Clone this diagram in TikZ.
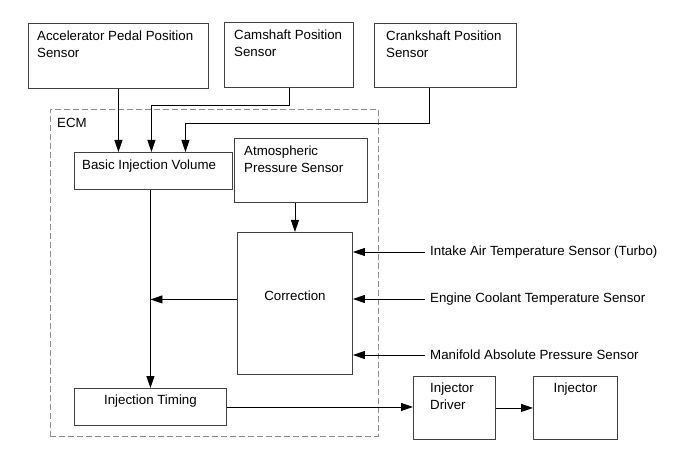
\documentclass[tikz,border=0pt]{standalone}
\usepackage{fontspec}
\setmainfont{Liberation Sans}
\usepackage{xcolor}
\usetikzlibrary{positioning,arrows.meta}
\definecolor{boxline}{rgb}{0.25,0.25,0.25}
\definecolor{ecmline}{rgb}{0.55,0.55,0.55}

\begin{document}
\begin{tikzpicture}[x=1pt,y=-1pt,
	every node/.style={font=\fontsize{13.3}{17}\selectfont},
	box/.style={draw=boxline,line width=0.9pt,rectangle,inner sep=0pt,anchor=north west},
	txt/.style={align=left,inner sep=0pt},
	arr/.style={line width=0.9pt,-{Triangle[length=12pt,width=8pt]}}]
	\useasboundingbox (0,0) rectangle (691,465);

	% sensors on top
	\node[box,minimum width=180pt,minimum height=65pt] (acc) at (28,23) {};
	\node[box,minimum width=129pt,minimum height=65pt] (cam) at (224,22) {};
	\node[box,minimum width=142pt,minimum height=64pt] (crank) at (374,23) {};
	\node[txt,below right=7.5pt and 9pt of acc.north west] {Accelerator Pedal Position\\Sensor};
	\node[txt,below right=7.5pt and 10pt of cam.north west] {Camshaft Position\\Sensor};
	\node[txt,below right=7.5pt and 12pt of crank.north west] {Crankshaft Position\\Sensor};

	% ECM
	\node[box,draw=ecmline,dash pattern=on 6pt off 3pt,minimum width=328pt,minimum height=327pt] (ecm) at (50,109) {};
	\node[txt,below right=9pt and 7pt of ecm.north west] {ECM};

	\node[box,minimum width=158pt,minimum height=37pt] (basic) at (74,152) {};
	\node[box,minimum width=133pt,minimum height=64pt] (atm) at (234,138) {};
	\node[box,minimum width=115pt,minimum height=142pt] (corr) at (237,232) {};
	\node[box,minimum width=152pt,minimum height=37pt] (timing) at (74,388) {};
	\node[txt,below right=7.5pt and 8pt of basic.north west] {Basic Injection Volume};
	\node[txt,below right=7.5pt and 10pt of atm.north west] {Atmospheric\\Pressure Sensor};
	\node[txt,yshift=8pt] at (corr) {Correction};
	\node[txt,below=7pt of timing.north] {Injection Timing};

	% outside
	\node[box,minimum width=82pt,minimum height=63pt] (drv) at (413,376) {};
	\node[box,minimum width=84pt,minimum height=63pt] (inj) at (533,376) {};
	\node[txt,below right=6.5pt and 17pt of drv.north west] {Injector\\Driver};
	\node[txt,below=7pt of inj.north] {Injector};

	\node[txt,anchor=west,inner xsep=5pt] (iat) at (425,252) {Intake Air Temperature Sensor (Turbo)};
	\node[txt,anchor=west,inner xsep=5pt] (ect) at (425,299) {Engine Coolant Temperature Sensor};
	\node[txt,anchor=west,inner xsep=5pt] (map) at (425,355) {Manifold Absolute Pressure Sensor};

	% connectors
	\draw[arr] (acc.south) -- (acc.south |- basic.north);
	\draw[arr] (cam.south) -- ++(0,18) -| ([xshift=-2pt]basic.north);
	\draw[arr] ([xshift=-16pt]crank.south) -- ++(0,36) -| ([xshift=32pt]basic.north);
	\draw[arr] (basic.south -| timing.north) -- (timing.north);
	\draw[arr] (atm.south -| corr.north) -- (corr.north);
	\draw[arr] ([yshift=4pt]corr.west) -- ([yshift=4pt]corr.west -| timing.north);
	\draw[arr] (iat.west) -- (iat.west -| corr.east);
	\draw[arr] (ect.west) -- (ect.west -| corr.east);
	\draw[arr] (map.west) -- (map.west -| corr.east);
	\draw[arr] (timing.east) -- (timing.east -| drv.west);
	\draw[arr] (drv) -- (inj);
\end{tikzpicture}
\end{document}
